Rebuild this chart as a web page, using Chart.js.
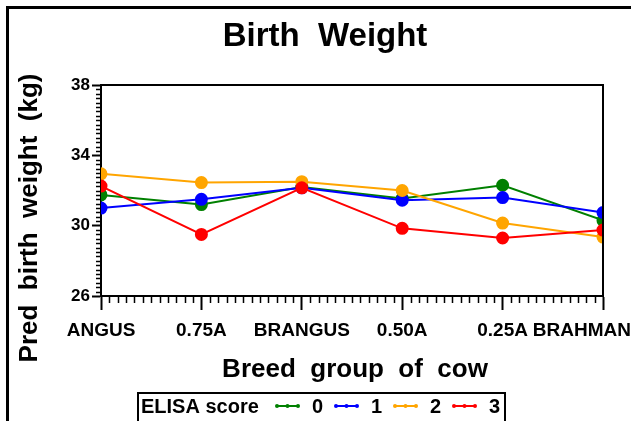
<!DOCTYPE html>
<html>
<head>
<meta charset="utf-8">
<script src="https://cdn.jsdelivr.net/npm/chart.js@4"></script>
<style>
  body { margin: 0; background: #fff; }
  #wrap { width: 631px; height: 421px; }
</style>
</head>
<body>
<div id="wrap"><canvas id="chart" width="631" height="421"></canvas></div>
<script>
const breeds = ["ANGUS", "0.75A", "BRANGUS", "0.50A", "0.25A", "BRAHMAN"];
const scoreLabels = ["0", "1", "2", "3"];
const score0 = [31.75, 31.2, 32.2, 31.55, 32.3, 30.3];
const score1 = [31.0, 31.5, 32.15, 31.45, 31.6, 30.75];
const score2 = [32.95, 32.45, 32.5, 32.0, 30.15, 29.35];
const score3 = [32.25, 29.5, 32.15, 29.85, 29.3, 29.75];
const yTicks = [26, 30, 34, 38];

const colors = ["#008000", "#0000ff", "#ffa500", "#ff0000"];
const FONT = '"Liberation Sans", Arial, sans-serif';

function makeSet(label, data, i) {
  return {
    label,
    data,
    borderColor: colors[i],
    backgroundColor: colors[i],
    pointBackgroundColor: colors[i],
    pointBorderColor: colors[i],
    borderWidth: 2,
    pointRadius: 5.5,
    tension: 0,
    clip: 0,
    order: 3 - i,
  };
}

// frame, minor ticks, labels, titles and legend box
const decor = {
  id: "decor",
  beforeDraw(chart) {
    const ctx = chart.ctx;
    ctx.save();
    ctx.fillStyle = "#fff";
    ctx.fillRect(0, 0, chart.width, chart.height);
    ctx.restore();
  },
  afterDraw(chart) {
    const ctx = chart.ctx;
    const area = chart.chartArea;
    const x = chart.scales.x;
    const y = chart.scales.y;
    ctx.save();
    ctx.strokeStyle = "#000";
    ctx.fillStyle = "#000";

    // outer border of the figure
    ctx.lineWidth = 3;
    ctx.beginPath();
    ctx.moveTo(7.5, chart.height);
    ctx.lineTo(7.5, 7.5);
    ctx.lineTo(chart.width, 7.5);
    ctx.stroke();

    // top and right of plot frame
    ctx.lineWidth = 2;
    ctx.beginPath();
    ctx.moveTo(area.left, area.top);
    ctx.lineTo(area.right, area.top);
    ctx.lineTo(area.right, area.bottom);
    ctx.stroke();

    // minor ticks
    ctx.lineWidth = 1.5;
    ctx.beginPath();
    for (let v = y.min; v <= y.max + 1e-9; v += 0.25) {
      if (yTicks.includes(v)) continue;
      const py = Math.round(y.getPixelForValue(v)) + 0.5;
      ctx.moveTo(area.left - 5, py);
      ctx.lineTo(area.left, py);
    }
    for (let k = 0; k <= (breeds.length - 1) * 12; k++) {
      if (k % 12 === 0) continue;
      const px = Math.round(x.getPixelForValue(k / 12)) + 0.5;
      ctx.moveTo(px, area.bottom);
      ctx.lineTo(px, area.bottom + 7);
    }
    ctx.stroke();

    // category labels
    ctx.font = "bold 19px " + FONT;
    ctx.textBaseline = "alphabetic";
    ctx.textAlign = "left";
    breeds.forEach((b, i) => {
      const w = ctx.measureText(b).width;
      let cx = x.getPixelForValue(i);
      cx = Math.min(cx, chart.width - w / 2);
      ctx.fillText(b, cx - w / 2, 336);
    });

    // titles
    ctx.textAlign = "center";
    ctx.font = "bold 33px " + FONT;
    ctx.fillText("Birth  Weight", 325, 46);

    ctx.font = "bold 26px " + FONT;
    ctx.fillText("Breed  group  of  cow", 355, 377);

    ctx.save();
    ctx.translate(37, 218);
    ctx.rotate(-Math.PI / 2);
    ctx.font = "bold 26px " + FONT;
    ctx.fillText("Pred  birth  weight  (kg)", 0, 0);
    ctx.restore();

    // legend
    ctx.lineWidth = 2;
    ctx.strokeRect(138, 393, 367, 40);
    ctx.textAlign = "left";
    ctx.font = "bold 20px " + FONT;
    ctx.fillText("ELISA score", 141, 413);
    const ly = 406;
    chart.data.datasets.forEach((ds, i) => {
      const sx = 277 + i * 59;
      ctx.strokeStyle = ds.borderColor;
      ctx.fillStyle = ds.borderColor;
      ctx.lineWidth = 2;
      ctx.beginPath();
      ctx.moveTo(sx, ly);
      ctx.lineTo(sx + 21, ly);
      ctx.stroke();
      [0, 10.5, 21].forEach((d) => {
        ctx.beginPath();
        ctx.arc(sx + d, ly, 2, 0, Math.PI * 2);
        ctx.fill();
      });
      ctx.fillStyle = "#000";
      ctx.textAlign = "right";
      ctx.fillText(ds.label, sx + 46, 413);
      ctx.textAlign = "left";
    });
    ctx.restore();
  },
};

new Chart(document.getElementById("chart"), {
  type: "line",
  data: {
    labels: breeds,
    datasets: [
      makeSet(scoreLabels[0], score0, 0),
      makeSet(scoreLabels[1], score1, 1),
      makeSet(scoreLabels[2], score2, 2),
      makeSet(scoreLabels[3], score3, 3),
    ],
  },
  options: {
    responsive: false,
    animation: false,
    layout: {
      padding: { left: 0, top: 85, right: 28, bottom: 0 },
    },
    plugins: {
      legend: { display: false },
      title: { display: false },
      tooltip: { enabled: false },
    },
    scales: {
      x: {
        type: "category",
        offset: false,
        afterFit: (s) => { s.height = 125; },
        ticks: { display: false },
        grid: {
          drawOnChartArea: false,
          tickLength: 14,
          tickWidth: 2,
          tickColor: "#000",
        },
        border: { color: "#000", width: 2 },
      },
      y: {
        min: 26,
        max: 38,
        afterFit: (s) => { s.width = 101; },
        afterBuildTicks: (s) => {
          s.ticks = yTicks.map((v) => ({ value: v }));
        },
        ticks: {
          color: "#000",
          padding: 2,
          font: { family: FONT, size: 17, weight: "bold" },
        },
        grid: {
          drawOnChartArea: false,
          tickLength: 9,
          tickWidth: 2,
          tickColor: "#000",
        },
        border: { color: "#000", width: 2 },
      },
    },
  },
  plugins: [decor],
});
</script>
</body>
</html>
